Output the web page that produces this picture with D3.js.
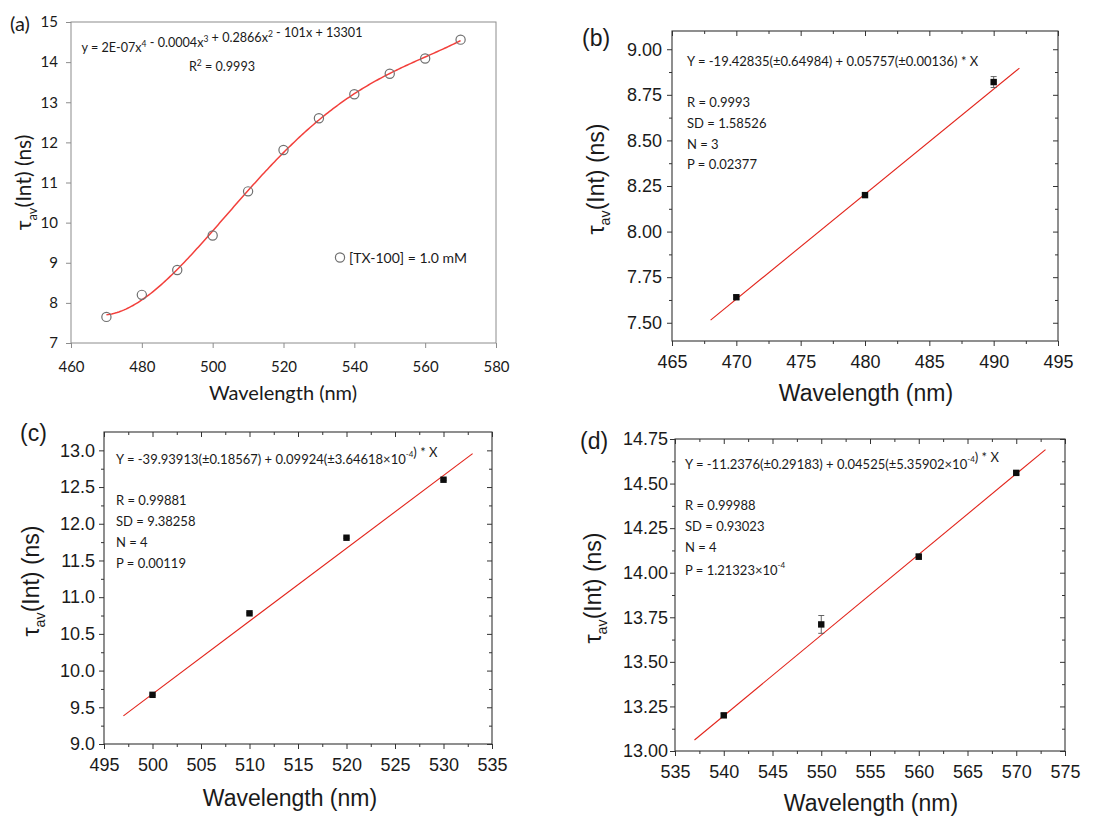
<!DOCTYPE html>
<html>
<head>
<meta charset="utf-8">
<script src="https://cdn.jsdelivr.net/npm/d3@7/dist/d3.min.js"></script>
<style>
  body { margin: 0; background: #fff; }
  svg { display: block; }
</style>
</head>
<body>
<svg id="chart" width="1114" height="816"></svg>
<script>
// ---------- data ----------
// (a) average lifetime over the full wavelength range, [TX-100] = 1.0 mM
const wavelengthsA = [470, 480, 490, 500, 510, 520, 530, 540, 550, 560, 570];
const tauA = [7.65, 8.20, 8.82, 9.68, 10.78, 11.81, 12.60, 13.20, 13.71, 14.09, 14.56];
const xTicksA = [460, 480, 500, 520, 540, 560, 580];
const yTicksA = [7, 8, 9, 10, 11, 12, 13, 14, 15];

// (b) 470-490 nm
const wavelengthsB = [470, 480, 490];
const tauB = [7.64, 8.20, 8.82];
const errB = [0.01, 0.01, 0.03];
const fitCoefB = [-19.42835, 0.05757];
const fitRangeB = [468, 492];
const xTicksB = [465, 470, 475, 480, 485, 490, 495];
const yTicksB = [7.50, 7.75, 8.00, 8.25, 8.50, 8.75, 9.00];

// (c) 500-530 nm
const wavelengthsC = [500, 510, 520, 530];
const tauC = [9.67, 10.78, 11.81, 12.60];
const errC = [0.01, 0.01, 0.01, 0.01];
const fitCoefC = [-39.93913, 0.09924];
const fitRangeC = [497, 533];
const xTicksC = [495, 500, 505, 510, 515, 520, 525, 530, 535];
const yTicksC = [9.0, 9.5, 10.0, 10.5, 11.0, 11.5, 12.0, 12.5, 13.0];

// (d) 540-570 nm
const wavelengthsD = [540, 550, 560, 570];
const tauD = [13.20, 13.71, 14.09, 14.56];
const errD = [0.01, 0.05, 0.015, 0.01];
const fitCoefD = [-11.2376, 0.04525];
const fitRangeD = [537, 573];
const xTicksD = [535, 540, 545, 550, 555, 560, 565, 570, 575];
const yTicksD = [13.00, 13.25, 13.50, 13.75, 14.00, 14.25, 14.50, 14.75];

// fit statistics printed inside panels b-d
const statsB = ['R = 0.9993', 'SD = 1.58526', 'N = 3', 'P = 0.02377'];
const statsC = ['R = 0.99881', 'SD = 9.38258', 'N = 4', 'P = 0.00119'];
const statsD = ['R = 0.99988', 'SD = 0.93023', 'N = 4'];

// ---------- helpers ----------
const svg = d3.select('#chart');
const sansC = "Lato, 'Open Sans', 'Noto Sans', sans-serif";
const sansA = "'Liberation Sans', Arial, sans-serif";
const ink = '#1a1a1a';

// least-squares polynomial trendline (centred/scaled abscissa for stability)
function polyFit(xs, ys, deg) {
  const x0 = d3.mean(xs), s = (d3.max(xs) - d3.min(xs)) / 2;
  const n = deg + 1;
  const A = Array.from({ length: n }, () => new Array(n + 1).fill(0));
  xs.forEach((xv, i) => {
    const t = (xv - x0) / s;
    for (let r = 0; r < n; r++) {
      for (let c = 0; c < n; c++) A[r][c] += Math.pow(t, r + c);
      A[r][n] += ys[i] * Math.pow(t, r);
    }
  });
  for (let c = 0; c < n; c++) {
    let p = c;
    for (let r = c + 1; r < n; r++) if (Math.abs(A[r][c]) > Math.abs(A[p][c])) p = r;
    [A[c], A[p]] = [A[p], A[c]];
    for (let r = 0; r < n; r++) {
      if (r === c) continue;
      const f = A[r][c] / A[c][c];
      for (let k = c; k <= n; k++) A[r][k] -= f * A[c][k];
    }
  }
  const coef = A.map((row, i) => row[n] / row[i]);
  return xv => { const t = (xv - x0) / s; return coef.reduce((acc, c, k) => acc + c * Math.pow(t, k), 0); };
}

// y-axis title: tau with "av" subscript, rotated
function yTitle(g, cx, cy, font, size) {
  const t = g.append('text')
    .attr('transform', `translate(${cx},${cy}) rotate(-90)`)
    .attr('text-anchor', 'middle')
    .attr('font-family', font).attr('font-size', size).attr('fill', ink);
  t.append('tspan').text('τ');
  t.append('tspan').attr('font-size', size * 0.62).attr('dy', size * 0.28).text('av');
  t.append('tspan').attr('dy', -size * 0.28).text('(Int) (ns)');
}

function styleAxis(sel, color, font, size) {
  sel.select('.domain').remove();
  sel.selectAll('.tick line').attr('stroke', color).attr('stroke-width', 1);
  sel.selectAll('.tick text').attr('fill', ink).attr('font-family', font).attr('font-size', size);
}

// ---------- panel (a): Excel-style trendline chart ----------
(function () {
  const g = svg.append('g');
  const x = d3.scaleLinear().domain([460, 580]).range([71, 496]);
  const y = d3.scaleLinear().domain([7, 15]).range([343, 22]);
  const grey = '#8c8c8c';

  g.append('rect')
    .attr('x', x.range()[0]).attr('y', y.range()[1])
    .attr('width', x.range()[1] - x.range()[0]).attr('height', y.range()[0] - y.range()[1])
    .attr('fill', 'none').attr('stroke', grey).attr('stroke-width', 1);

  g.append('g').attr('transform', `translate(${x.range()[0]},0)`)
    .call(d3.axisLeft(y).tickValues(yTicksA).tickSize(5).tickPadding(8).tickFormat(d3.format('d')))
    .call(s => styleAxis(s, grey, sansC, 15));
  g.append('g').attr('transform', `translate(0,${y.range()[0]})`)
    .call(d3.axisBottom(x).tickValues(xTicksA).tickSize(5).tickPadding(13).tickFormat(d3.format('d')))
    .call(s => styleAxis(s, grey, sansC, 15));

  const fit = polyFit(wavelengthsA, tauA, 4);
  const curvePts = d3.range(d3.min(wavelengthsA), d3.max(wavelengthsA) + 0.01, 0.5).map(w => [w, fit(w)]);
  g.append('path')
    .attr('d', d3.line().x(d => x(d[0])).y(d => y(d[1]))(curvePts))
    .attr('fill', 'none').attr('stroke', '#f2403c').attr('stroke-width', 1.5);

  g.selectAll('circle.pt').data(wavelengthsA).join('circle')
    .attr('class', 'pt')
    .attr('cx', d => x(d)).attr('cy', (d, i) => y(tauA[i])).attr('r', 4.6)
    .attr('fill', 'none').attr('stroke', '#707070').attr('stroke-width', 1.2);

  // equation of the trendline
  const eq = g.append('text').attr('x', 222).attr('y', 52).attr('text-anchor', 'middle')
    .attr('font-family', sansC).attr('font-size', 12.6).attr('fill', ink);
  const parts = [['y = 2E-07x'], ['4', 1], [' - 0.0004x'], ['3', 1], [' + 0.2866x'], ['2', 1], [' - 101x + 13301']];
  parts.forEach(([t, sup]) => {
    eq.append('tspan').attr('font-size', sup ? 8.5 : 12.6).attr('dy', sup ? -5 : 0).text(t);
    if (sup) eq.append('tspan').attr('dy', 5).text('');
  });
  const r2 = g.append('text').attr('x', 222).attr('y', 71).attr('text-anchor', 'middle')
    .attr('font-family', sansC).attr('font-size', 12.6).attr('fill', ink);
  r2.append('tspan').text('R');
  r2.append('tspan').attr('font-size', 8.5).attr('dy', -5).text('2');
  r2.append('tspan').attr('dy', 5).text(' = 0.9993');

  // legend
  g.append('circle').attr('cx', 340).attr('cy', 257.5).attr('r', 4.6)
    .attr('fill', 'none').attr('stroke', '#707070').attr('stroke-width', 1.2);
  g.append('text').attr('x', 349).attr('y', 263)
    .attr('font-family', sansC).attr('font-size', 14).attr('fill', ink).text('[TX-100] = 1.0 mM');

  g.append('text').attr('x', (x.range()[0] + x.range()[1]) / 2 - 0.5).attr('y', 400).attr('text-anchor', 'middle')
    .attr('font-family', sansC).attr('font-size', 20).attr('fill', ink).text('Wavelength (nm)');
  yTitle(g, 31, (y.range()[0] + y.range()[1]) / 2, sansC, 21);

  g.append('text').attr('x', 10).attr('y', 31).attr('font-family', sansC).attr('font-size', 20)
    .attr('fill', ink).text('(a)');
})();

// ---------- panels (b)-(d): Origin-style linear fits ----------
function originPanel(o) {
  const g = svg.append('g');
  const x = d3.scaleLinear().domain(o.xDomain).range([o.left, o.right]);
  const y = d3.scaleLinear().domain(o.yDomain).range([o.bottom, o.top]);
  const frame = '#333';
  const mid = arr => d3.pairs(arr).map(([a, b]) => (a + b) / 2);
  const xMinor = mid(o.xTicks), yMinor = mid(o.yTicks);

  // bottom & left: outward ticks with labels
  g.append('g').attr('transform', `translate(0,${o.bottom})`)
    .call(d3.axisBottom(x).tickValues(o.xTicks).tickSize(5).tickPadding(9).tickFormat(d3.format('d')))
    .call(s => styleAxis(s, frame, sansA, 18));
  g.append('g').attr('transform', `translate(0,${o.bottom})`)
    .call(d3.axisBottom(x).tickValues(xMinor).tickSize(3).tickFormat(''))
    .call(s => styleAxis(s, frame, sansA, 18));
  g.append('g').attr('transform', `translate(${o.left},0)`)
    .call(d3.axisLeft(y).tickValues(o.yTicks).tickSize(5).tickPadding(o.yPad).tickFormat(d3.format(o.yFmt)))
    .call(s => styleAxis(s, frame, sansA, 18));
  g.append('g').attr('transform', `translate(${o.left},0)`)
    .call(d3.axisLeft(y).tickValues(yMinor).tickSize(3).tickFormat(''))
    .call(s => styleAxis(s, frame, sansA, 18));

  // top & right: inward ticks, no labels
  g.append('g').attr('transform', `translate(0,${o.top})`)
    .call(d3.axisTop(x).tickValues(o.xTicks).tickSize(-5).tickFormat(''))
    .call(s => styleAxis(s, frame, sansA, 18));
  g.append('g').attr('transform', `translate(0,${o.top})`)
    .call(d3.axisTop(x).tickValues(xMinor).tickSize(-3).tickFormat(''))
    .call(s => styleAxis(s, frame, sansA, 18));
  g.append('g').attr('transform', `translate(${o.right},0)`)
    .call(d3.axisRight(y).tickValues(o.yTicks).tickSize(-5).tickFormat(''))
    .call(s => styleAxis(s, frame, sansA, 18));
  g.append('g').attr('transform', `translate(${o.right},0)`)
    .call(d3.axisRight(y).tickValues(yMinor).tickSize(-3).tickFormat(''))
    .call(s => styleAxis(s, frame, sansA, 18));

  g.append('rect').attr('x', o.left).attr('y', o.top)
    .attr('width', o.right - o.left).attr('height', o.bottom - o.top)
    .attr('fill', 'none').attr('stroke', frame).attr('stroke-width', 1.1);

  // linear fit drawn from the printed intercept and slope
  const [a, b] = o.fitCoef;
  const linePts = o.fitRange.map(w => [w, a + b * w]);
  g.append('path')
    .attr('d', d3.line().x(d => x(d[0])).y(d => y(d[1]))(linePts))
    .attr('fill', 'none').attr('stroke', '#e2231a').attr('stroke-width', 1.1);

  // error bars
  const eb = g.selectAll('g.err').data(o.xs).join('g').attr('class', 'err');
  eb.append('line')
    .attr('x1', d => x(d)).attr('x2', d => x(d))
    .attr('y1', (d, i) => y(o.ys[i] - o.errs[i])).attr('y2', (d, i) => y(o.ys[i] + o.errs[i]))
    .attr('stroke', '#555').attr('stroke-width', 0.9);
  ['-', '+'].forEach(sign => {
    eb.append('line')
      .attr('x1', d => x(d) - 3).attr('x2', d => x(d) + 3)
      .attr('y1', (d, i) => y(o.ys[i] + (sign === '+' ? 1 : -1) * o.errs[i]))
      .attr('y2', (d, i) => y(o.ys[i] + (sign === '+' ? 1 : -1) * o.errs[i]))
      .attr('stroke', '#555').attr('stroke-width', 0.9);
  });

  // data markers
  g.selectAll('rect.pt').data(o.xs).join('rect').attr('class', 'pt')
    .attr('x', d => x(d) - 3.2).attr('y', (d, i) => y(o.ys[i]) - 3.2)
    .attr('width', 6.4).attr('height', 6.4).attr('fill', '#0d0d0d');

  // fit equation and statistics
  const eq = g.append('text').attr('x', o.noteX).attr('y', o.noteY[0])
    .attr('font-family', sansC).attr('font-size', 13).attr('fill', ink);
  o.eqParts.forEach(([t, sup]) => {
    eq.append('tspan').attr('font-size', sup ? 8 : 13).attr('dy', sup ? -7 : 0).text(t);
    if (sup) eq.append('tspan').attr('dy', 7).text('');
  });
  o.stats.forEach((s, i) => {
    g.append('text').attr('x', o.noteX).attr('y', o.noteY[i + 1])
      .attr('font-family', sansC).attr('font-size', 13).attr('fill', ink).text(s);
  });
  if (o.extra) o.extra(g);

  g.append('text').attr('x', o.xTitleX).attr('y', o.xTitleY).attr('text-anchor', 'middle')
    .attr('font-family', sansA).attr('font-size', 23).attr('fill', ink).text('Wavelength (nm)');
  yTitle(g, o.yTitleX, (o.top + o.bottom) / 2 - 7, sansA, 23);
  g.append('text').attr('x', o.tagX).attr('y', o.tagY).attr('font-family', sansA).attr('font-size', 23)
    .attr('fill', ink).text(o.tag);
}

originPanel({
  tag: '(b)', tagX: 582, tagY: 46,
  left: 672, right: 1058, top: 31, bottom: 341,
  xDomain: [465, 495], yDomain: [7.4, 9.1],
  xTicks: xTicksB, yTicks: yTicksB, yFmt: '.2f', yPad: 5,
  xs: wavelengthsB, ys: tauB, errs: errB,
  fitCoef: fitCoefB, fitRange: fitRangeB,
  noteX: 687, noteY: [66, 107, 128, 148.5, 169],
  eqParts: [['Y = -19.42835(±0.64984) + 0.05757(±0.00136) * X']],
  stats: statsB,
  xTitleX: 866, xTitleY: 401, yTitleX: 604
});

originPanel({
  tag: '(c)', tagX: 20, tagY: 441,
  left: 104, right: 492, top: 432, bottom: 744,
  xDomain: [495, 535], yDomain: [9.0, 13.25],
  xTicks: xTicksC, yTicks: yTicksC, yFmt: '.1f', yPad: 4,
  xs: wavelengthsC, ys: tauC, errs: errC,
  fitCoef: fitCoefC, fitRange: fitRangeC,
  noteX: 116, noteY: [463.5, 504.5, 526, 546.5, 567.5],
  eqParts: [['Y = -39.93913(±0.18567) + 0.09924(±3.64618×10'], ['-4', 1], [') * X']],
  stats: statsC,
  xTitleX: 290, xTitleY: 806, yTitleX: 39
});

originPanel({
  tag: '(d)', tagX: 580, tagY: 449,
  left: 675, right: 1065, top: 439, bottom: 751,
  xDomain: [535, 575], yDomain: [13.00, 14.75],
  xTicks: xTicksD, yTicks: yTicksD, yFmt: '.2f', yPad: 2,
  xs: wavelengthsD, ys: tauD, errs: errD,
  fitCoef: fitCoefD, fitRange: fitRangeD,
  noteX: 685, noteY: [468.5, 510, 531, 551.5],
  eqParts: [['Y = -11.2376(±0.29183) + 0.04525(±5.35902×10'], ['-4', 1], [') * X']],
  stats: statsD,
  extra: g => {
    const t = g.append('text').attr('x', 685).attr('y', 575)
      .attr('font-family', sansC).attr('font-size', 13).attr('fill', ink);
    t.append('tspan').text('P = 1.21323×10');
    t.append('tspan').attr('font-size', 8).attr('dy', -7).text('-4');
  },
  xTitleX: 871, xTitleY: 811, yTitleX: 601
});
</script>
</body>
</html>
